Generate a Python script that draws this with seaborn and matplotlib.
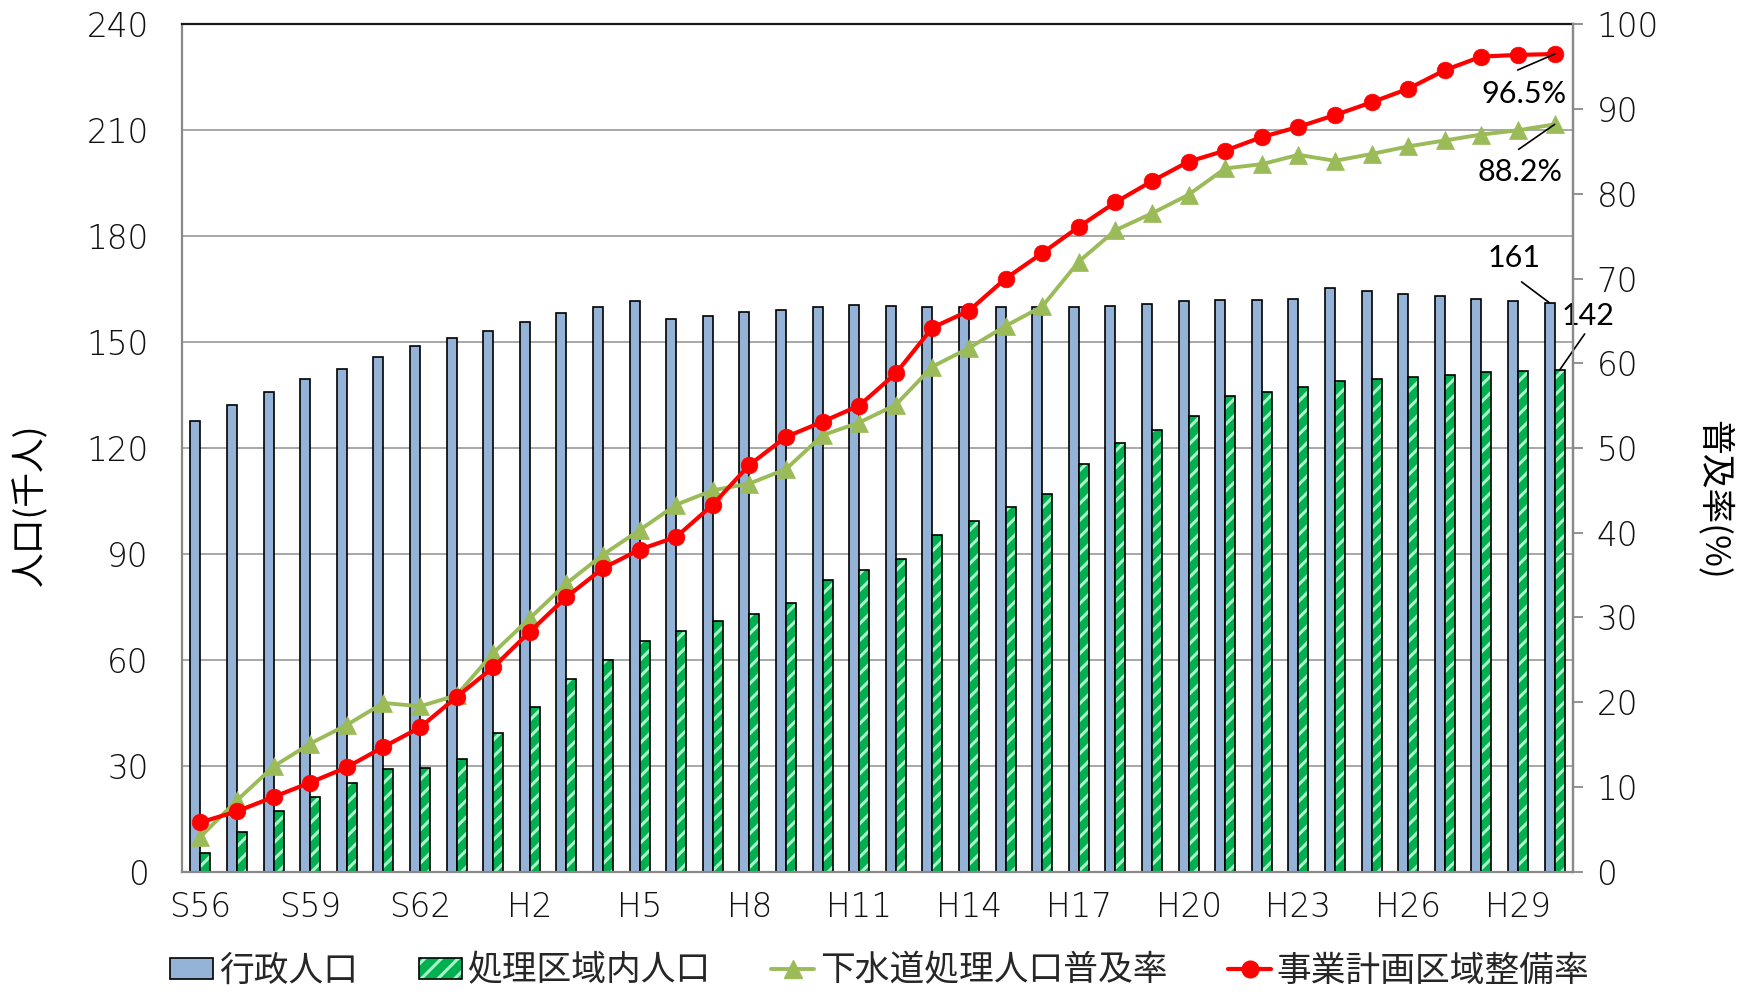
import numpy as np
import pandas as pd
import matplotlib
matplotlib.use("Agg")
import matplotlib.pyplot as plt
from matplotlib.patches import Patch, Rectangle
from matplotlib.lines import Line2D
import seaborn as sns

# ---- data -------------------------------------------------------------
years = ["S56", "S57", "S58", "S59", "S60", "S61", "S62", "S63",
         "H1", "H2", "H3", "H4", "H5", "H6", "H7", "H8", "H9", "H10",
         "H11", "H12", "H13", "H14", "H15", "H16", "H17", "H18", "H19", "H20",
         "H21", "H22", "H23", "H24", "H25", "H26", "H27", "H28", "H29", "H30"]

# 行政人口 (千人)
admin_pop = [127.5, 132.3, 135.9, 139.6, 142.3, 145.7, 149.0, 151.2,
             153.0, 155.8, 158.3, 159.9, 161.6, 156.6, 157.5, 158.4, 159.1, 160.0,
             160.5, 160.2, 160.0, 160.0, 160.0, 159.8, 159.8, 160.3, 160.7, 161.5,
             161.8, 162.0, 162.2, 165.2, 164.4, 163.7, 163.0, 162.2, 161.7, 161.1]

# 処理区域内人口 (千人)
treated_pop = [5.2, 11.3, 17.0, 21.2, 25.0, 29.0, 29.3, 32.0,
               39.3, 46.6, 54.4, 60.0, 65.4, 68.1, 70.9, 72.9, 76.0, 82.6,
               85.5, 88.5, 95.4, 99.3, 103.3, 106.9, 115.5, 121.5, 125.0, 129.1,
               134.6, 135.8, 137.3, 138.9, 139.5, 140.2, 140.8, 141.5, 141.9, 142.1]

# 下水道処理人口普及率 (%)
sewer_rate = [4.1, 8.4, 12.4, 15.1, 17.3, 19.9, 19.5, 20.8,
              25.8, 29.9, 34.0, 37.4, 40.3, 43.3, 45.0, 45.8, 47.5, 51.5,
              53.0, 55.1, 59.6, 61.8, 64.4, 66.7, 72.0, 75.7, 77.7, 79.9,
              83.0, 83.5, 84.6, 83.9, 84.7, 85.6, 86.3, 87.0, 87.5, 88.2]

# 事業計画区域整備率 (%)
plan_rate = [5.8, 7.1, 8.8, 10.5, 12.3, 14.7, 17.0, 20.6,
             24.1, 28.3, 32.4, 35.8, 38.0, 39.5, 43.3, 48.0, 51.3, 53.1,
             55.0, 58.8, 64.2, 66.2, 70.0, 73.0, 76.1, 79.0, 81.5, 83.8,
             85.1, 86.7, 87.9, 89.3, 90.8, 92.4, 94.6, 96.2, 96.4, 96.5]

series_names = ["行政人口", "処理区域内人口", "下水道処理人口普及率", "事業計画区域整備率"]
pop_ticks = [0, 30, 60, 90, 120, 150, 180, 210, 240]
rate_ticks = [0, 10, 20, 30, 40, 50, 60, 70, 80, 90, 100]

# ---- style ------------------------------------------------------------
BLUE = "#95B3D7"
GREEN = "#00B050"
MINT = "#A8F5C8"
OLIVE = "#9BBB59"
RED = "#FF0000"
GRAY = "#898989"
TICK_FONT = dict(family=["DejaVu Sans"], weight="light", size=23.5)

sns.set_theme(style="white")
plt.rcParams["font.family"] = ["Noto Sans CJK JP", "DejaVu Sans"]
plt.rcParams["hatch.linewidth"] = 2.2

n = len(years)
fig = plt.figure(figsize=(17.39, 9.96), dpi=100)
ax1 = fig.add_axes([0.1047, 0.125, 0.7998, 0.8505])

# ---- bars -------------------------------------------------------------
df = pd.DataFrame({
    "year": years * 2,
    "pop": admin_pop + treated_pop,
    "series": [series_names[0]] * n + [series_names[1]] * n,
})
sns.barplot(data=df, x="year", y="pop", hue="series",
            hue_order=series_names[:2], order=years,
            palette=[BLUE, GREEN], saturation=1, width=0.55, gap=0,
            edgecolor="black", linewidth=1.2, legend=False, ax=ax1)

green_rgba = matplotlib.colors.to_rgba(GREEN)
for p in list(ax1.patches):
    if np.allclose(p.get_facecolor(), green_rgba, atol=0.02):
        p.set_hatch("//")
        p.set_edgecolor(MINT)
        p.set_linewidth(0)
        ax1.add_patch(Rectangle((p.get_x(), p.get_y()), p.get_width(), p.get_height(),
                                fill=False, edgecolor="black", linewidth=1.2, zorder=p.get_zorder()))

ax1.set_xlim(-0.5, n - 0.5)
ax1.set_ylim(0, 240)
ax1.set_yticks(pop_ticks)
ax1.set_xticks(range(0, n, 3))
ax1.set_xticklabels([years[i] for i in range(0, n, 3)])
ax1.set_xlabel("")
ax1.set_ylabel("人口(千人)", fontsize=25, color="black")
ax1.yaxis.set_label_coords(-0.0963, 0.433)
ax1.yaxis.grid(True, color="#A0A0A0", linewidth=1.3)
ax1.xaxis.grid(False)
ax1.set_axisbelow(True)
ax1.tick_params(axis="y", length=0, pad=24, labelcolor="#111111")
ax1.tick_params(axis="x", length=0, pad=14, labelcolor="#111111")
for lab in ax1.get_xticklabels() + ax1.get_yticklabels():
    lab.set_fontproperties(matplotlib.font_manager.FontProperties(**TICK_FONT))

for side in ["left", "bottom", "right"]:
    ax1.spines[side].set_color(GRAY)
    ax1.spines[side].set_linewidth(1.6)
ax1.spines["top"].set_color("#1a1a1a")
ax1.spines["top"].set_linewidth(1.6)

# ---- lines on the secondary axis ---------------------------------------
ax2 = ax1.twinx()
x_idx = np.arange(n)
sns.lineplot(x=x_idx, y=sewer_rate, ax=ax2, color=OLIVE, linewidth=2.8,
             marker="^", markersize=13, markeredgecolor=OLIVE, markeredgewidth=0.5)
sns.lineplot(x=x_idx, y=plan_rate, ax=ax2, color=RED, linewidth=3.0,
             marker="o", markersize=12, markeredgecolor=RED, markeredgewidth=0.5)
ax2.set_ylim(0, 100)
ax2.set_yticks(rate_ticks)
ax2.set_xlim(-0.5, n - 0.5)
ax2.set_ylabel("普及率(%)", fontsize=25, rotation=-90, color="black")
ax2.yaxis.set_label_coords(1.1143, 0.439)
ax2.tick_params(axis="y", direction="out", length=7, width=1.3, color=GRAY,
                pad=10, labelcolor="#111111", right=True)
for lab in ax2.get_yticklabels():
    lab.set_fontproperties(matplotlib.font_manager.FontProperties(**TICK_FONT))
ax2.grid(False)
for side in ["left", "bottom", "top"]:
    ax2.spines[side].set_visible(False)
ax2.spines["right"].set_color(GRAY)
ax2.spines["right"].set_linewidth(1.6)

# ---- value callouts for the final year ---------------------------------
last = n - 1
note_font = dict(family=["Lato", "DejaVu Sans"], fontsize=22, color="black")
line_kw = dict(arrowstyle="-", color="black", lw=1.2, shrinkA=0, shrinkB=0)

def callout(ax, x, y, line_end, text_pos, text):
    ax.annotate("", xy=(x, y), xytext=line_end, textcoords="offset pixels",
                arrowprops=line_kw)
    ax.annotate(text, xy=(x, y), xytext=text_pos, textcoords="offset pixels",
                ha="center", va="center", **note_font)

callout(ax2, last, plan_rate[-1], (-37, -16), (-31, -40), f"{plan_rate[-1]}%")
callout(ax2, last, sewer_rate[-1], (-36, -25), (-35, -48), f"{sewer_rate[-1]}%")
callout(ax1, last - 0.1375, admin_pop[-1], (-28, 21), (-36, 45), f"{admin_pop[-1]:.0f}")
callout(ax1, last + 0.1375, treated_pop[-1], (25, 36), (28, 54), f"{treated_pop[-1]:.0f}")

# ---- legend -------------------------------------------------------------
handles = [
    Patch(facecolor=BLUE, edgecolor="black", linewidth=1.2),
    (Patch(facecolor=GREEN, edgecolor=MINT, hatch="//", linewidth=0),
     Patch(fill=False, edgecolor="black", linewidth=1.2)),
    Line2D([], [], color=OLIVE, linewidth=2.8, marker="^", markersize=13,
           markeredgecolor=OLIVE),
    Line2D([], [], color=RED, linewidth=3.0, marker="o", markersize=12,
           markeredgecolor=RED),
]
fig.legend(handles, series_names, loc="center", bbox_to_anchor=(0.506, 0.025),
           ncol=4, frameon=False, fontsize=25, handlelength=1.24,
           handleheight=0.55, handletextpad=0.16, columnspacing=1.75,
           borderaxespad=0, borderpad=0)

fig.savefig("out.png", dpi=100)
